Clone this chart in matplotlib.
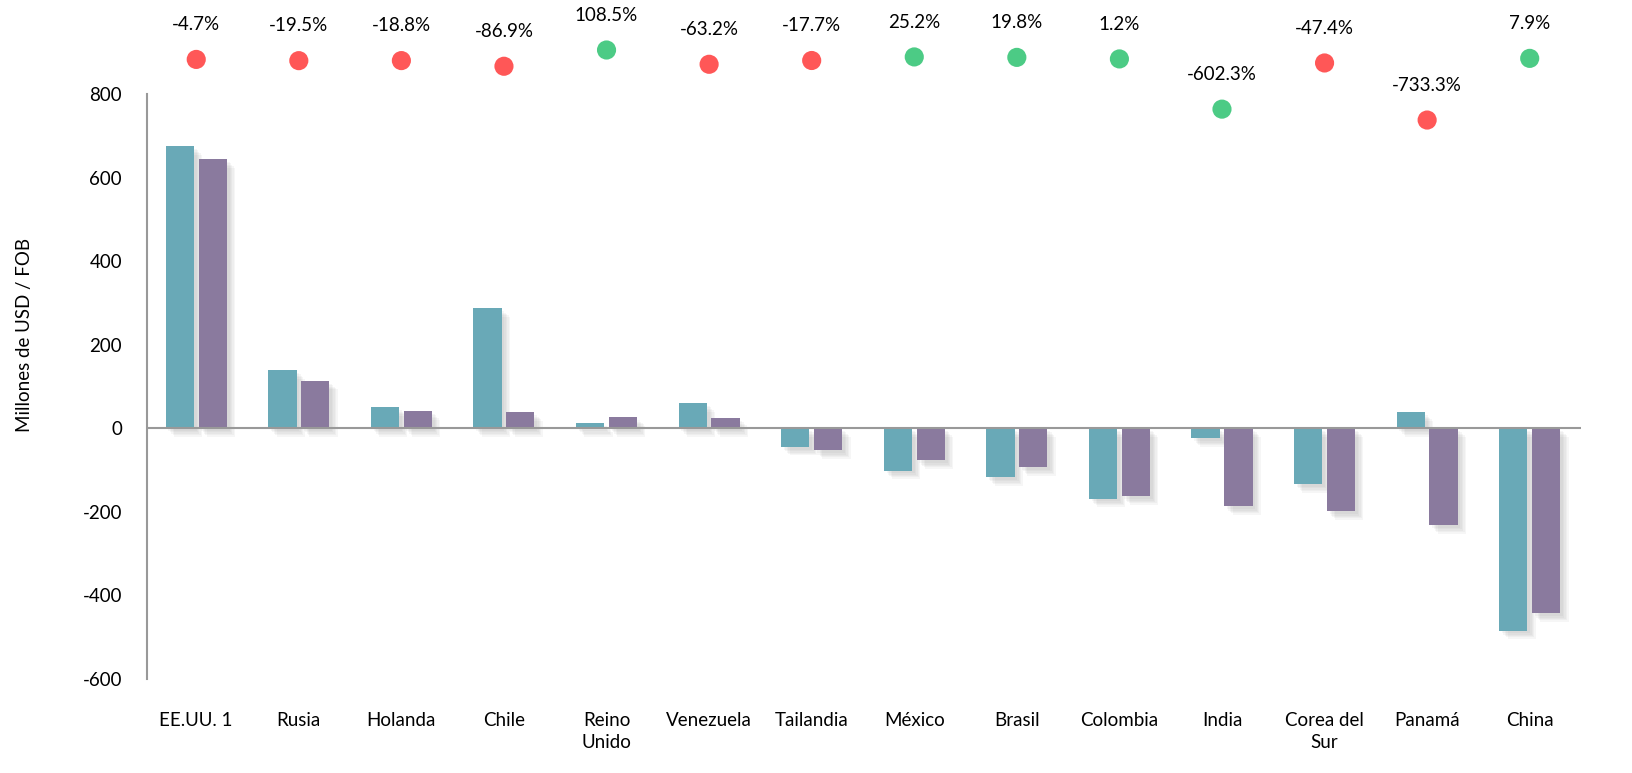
import matplotlib
matplotlib.use("Agg")
import matplotlib.pyplot as plt
import matplotlib.patheffects as pe
import numpy as np

plt.rcParams.update({
    "font.family": ["Lato", "DejaVu Sans"],
    "font.size": 13.5,
    "axes.unicode_minus": False,
})

# data
countries = ["EE.UU. 1", "Rusia", "Holanda", "Chile", "Reino\nUnido", "Venezuela",
             "Tailandia", "México", "Brasil", "Colombia", "India", "Corea del\nSur",
             "Panamá", "China"]
serie_a = [675, 139, 50, 287, 12, 60, -45, -101, -117, -168, -24, -134, 38, -484]
serie_b = [644, 113, 41, 38, 26, 24, -53, -77, -93, -163, -187, -199, -232, -443]
variacion = [-4.7, -19.5, -18.8, -86.9, 108.5, -63.2, -17.7, 25.2, 19.8, 1.2,
             -602.3, -47.4, -733.3, 7.9]
dot_colors = ["#FF5757", "#FF5757", "#FF5757", "#FF5757", "#4CCB85", "#FF5757",
              "#FF5757", "#4CCB85", "#4CCB85", "#4CCB85", "#4CCB85", "#FF5757",
              "#FF5757", "#4CCB85"]

teal = "#69A9B7"
purple = "#8A7A9E"

fig = plt.figure(figsize=(16.32, 7.73), dpi=100)
# axes from y=20px to y=679px, x=147px to 1581px
ax = fig.add_axes([147/1632, 1 - 679/773, (1581-147)/1632, (679-20)/773])

x = np.arange(len(countries))
w = 0.275
# soft shadow made of a few faint offset copies
shadow = [pe.SimplePatchShadow(offset=(o, -o), shadow_rgbFace="#888888", alpha=0.07)
          for o in (2, 3, 4, 5, 6)] + [pe.Normal()]
ax.bar(x - 0.16, serie_a, w, color=teal, path_effects=shadow, zorder=3)
ax.bar(x + 0.16, serie_b, w, color=purple, path_effects=shadow, zorder=3)

ax.axhline(0, color="#999999", lw=1.5, zorder=3.5)
ax.set_xlim(-0.48, 13.5)
ymax = 800 + (94 - 20) / ((428 - 94) / 800)
ax.set_ylim(-600, ymax)
ax.set_yticks(np.arange(-600, 801, 200))
ax.spines["left"].set_bounds(-600, 800)
ax.spines["left"].set_color("#999999")
ax.spines["left"].set_linewidth(1.5)
for s in ["top", "right", "bottom"]:
    ax.spines[s].set_visible(False)
ax.set_xticks(x)
ax.set_xticklabels(countries, va="top", linespacing=1.35)
ax.tick_params(axis="x", length=0, pad=24)
ax.tick_params(axis="y", length=0, pad=18)

fig.text(25/1632, 1 - 335/773, "Millones de USD / FOB", rotation=90,
         ha="center", va="center", fontsize=13.5)

# secondary hidden axis for the percentage dots
ax2 = ax.twinx()
px_per_pct = 0.0832
top_v = 108.5 + (50 - 20) / px_per_pct
ax2.set_ylim(top_v - 659 / px_per_pct, top_v)
ax2.set_axis_off()
ax2.scatter(x, variacion, s=190, c=dot_colors, zorder=4, linewidths=0)
for xi, v in zip(x, variacion):
    ax2.annotate(f"{v:.1f}%", (xi, v), xytext=(0, 19), textcoords="offset points",
                 ha="center", va="bottom", fontsize=13.5)

fig.savefig("out.png", dpi=100)
